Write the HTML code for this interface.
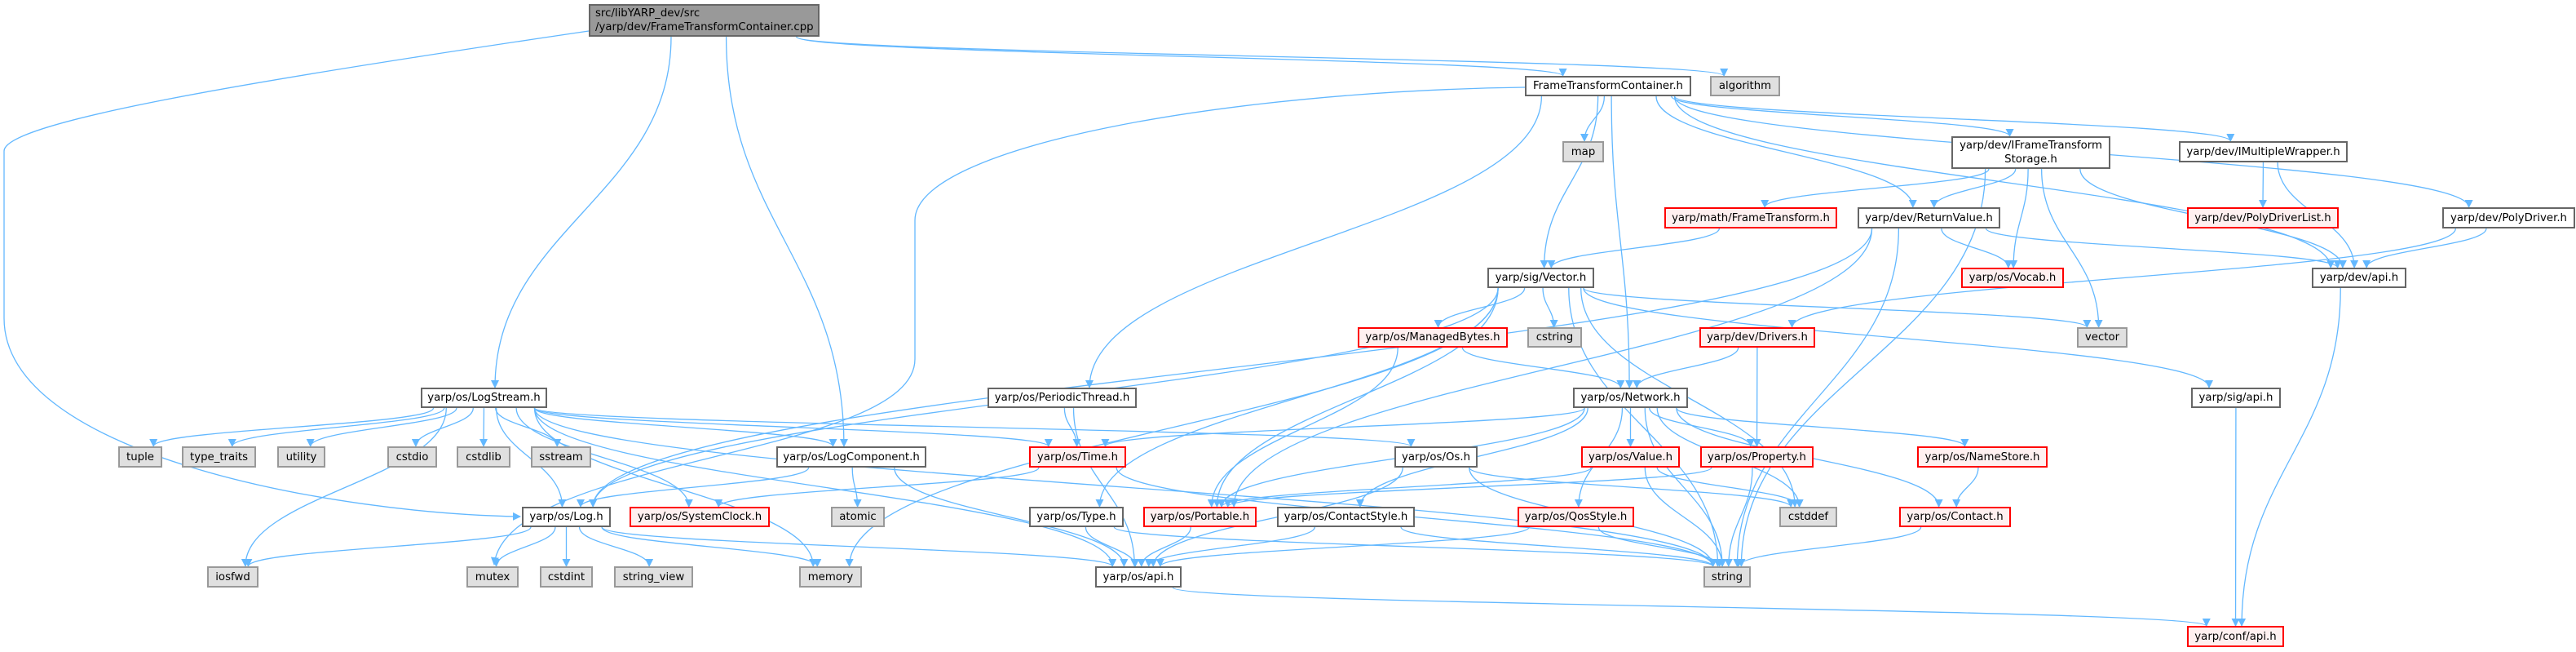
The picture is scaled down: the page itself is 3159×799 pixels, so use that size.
<!DOCTYPE html>
<html><head><meta charset="utf-8"><style>
body{margin:0;background:#fff;width:3159px;height:799px;overflow:hidden;position:relative;font-family:"DejaVu Sans","Liberation Sans",sans-serif;}
svg{position:absolute;left:0;top:0}
.n{position:absolute;box-sizing:border-box;border:2px solid #666;background:#fff;font-size:13.3px;color:#000;display:flex;align-items:center;justify-content:center;text-align:center;line-height:17px;white-space:nowrap}
.g{background:#e0e0e0;border-color:#999}
.r{background:#fff0f0;border-color:#f00}
.t{background:#999;border-color:#666;justify-content:flex-start;text-align:left;padding-left:6px}
</style></head><body>
<svg id="s" width="3159" height="799"><defs><marker id="a" viewBox="0 0 10 10" refX="9" refY="5" markerWidth="10" markerHeight="10" markerUnits="userSpaceOnUse" orient="auto"><path d="M0,0L10,5L0,10z" fill="#63b8ff"/></marker></defs><g id="e" fill="none" stroke="#63b8ff" stroke-width="1.3"></g></svg>
<div id="nodes"></div>
<script>
var N={
cpp:[722,5,1005,45,'t','src/libYARP_dev/src<br>/yarp/dev/FrameTransformContainer.cpp'],
ftc:[1870,93,2074,118,'','FrameTransformContainer.h'],
alg:[2097,93,2183,118,'g','algorithm'],
map:[1916,173,1967,199,'g','map'],
ifs:[2393,167,2588,207,'','yarp/dev/IFrameTransform<br>Storage.h'],
imw:[2672,173,2879,199,'','yarp/dev/IMultipleWrapper.h'],
mft:[2041,254,2253,280,'r','yarp/math/FrameTransform.h'],
rv:[2278,254,2453,280,'','yarp/dev/ReturnValue.h'],
pdl:[2682,254,2868,280,'r','yarp/dev/PolyDriverList.h'],
pd:[2995,254,3158,280,'','yarp/dev/PolyDriver.h'],
vec:[1824,328,1955,353,'','yarp/sig/Vector.h'],
voc:[2405,328,2531,353,'r','yarp/os/Vocab.h'],
dapi:[2835,328,2951,353,'','yarp/dev/api.h'],
mb:[1665,401,1849,426,'r','yarp/os/ManagedBytes.h'],
cstr:[1873,401,1940,426,'g','cstring'],
drv:[2084,401,2226,426,'r','yarp/dev/Drivers.h'],
vect:[2547,401,2609,426,'g','vector'],
ls:[516,475,671,500,'','yarp/os/LogStream.h'],
pt:[1211,475,1394,500,'','yarp/os/PeriodicThread.h'],
net:[1929,475,2070,500,'','yarp/os/Network.h'],
sapi:[2687,475,2797,500,'','yarp/sig/api.h'],
tup:[145,547,199,573,'g','tuple'],
tt:[223,547,314,573,'g','type_traits'],
ut:[340,547,399,573,'g','utility'],
cio:[475,547,536,573,'g','cstdio'],
clib:[560,547,626,573,'g','cstdlib'],
ss:[651,547,725,573,'g','sstream'],
lc:[952,547,1136,573,'','yarp/os/LogComponent.h'],
tim:[1262,547,1381,573,'r','yarp/os/Time.h'],
os:[1710,547,1812,573,'','yarp/os/Os.h'],
val:[1939,547,2060,573,'r','yarp/os/Value.h'],
prop:[2085,547,2224,573,'r','yarp/os/Property.h'],
ns:[2351,547,2511,573,'r','yarp/os/NameStore.h'],
log:[640,621,749,646,'','yarp/os/Log.h'],
sc:[772,621,944,646,'r','yarp/os/SystemClock.h'],
atm:[1019,621,1085,646,'g','atomic'],
typ:[1262,621,1378,646,'','yarp/os/Type.h'],
port:[1402,621,1541,646,'r','yarp/os/Portable.h'],
cs:[1566,621,1735,646,'','yarp/os/ContactStyle.h'],
qos:[1861,621,2004,646,'r','yarp/os/QosStyle.h'],
cdef:[2182,621,2253,646,'g','cstddef'],
con:[2329,621,2466,646,'r','yarp/os/Contact.h'],
iosf:[254,694,317,720,'g','iosfwd'],
mtx:[572,694,636,720,'g','mutex'],
cint:[662,694,727,720,'g','cstdint'],
sv:[753,694,850,720,'g','string_view'],
mem:[980,694,1057,720,'g','memory'],
oapi:[1343,694,1449,720,'','yarp/os/api.h'],
str:[2089,694,2147,720,'g','string'],
capi:[2682,767,2801,793,'r','yarp/conf/api.h']
};
var E={cpp:'ftc alg ls lc',
ftc:'map ifs imw rv dapi pd vec net pt',
ifs:'mft rv voc vect str dapi',imw:'pdl dapi',pd:'dapi drv',mft:'vec',
rv:'voc dapi str log port',dapi:'capi',
vec:'mb cstr vect sapi port typ log mem str cdef',
mb:'net port',drv:'net prop',sapi:'capi',
ls:'tup tt ut cio clib ss iosf log sc lc tim os oapi str mem',
pt:'tim oapi',net:'tim port cs val prop qos ns con str cdef',
lc:'log atm oapi',tim:'sc str',os:'oapi str cdef',val:'port str cdef',
prop:'port str',ns:'con',typ:'oapi str',port:'oapi',cs:'oapi str',qos:'oapi str',
con:'str',log:'iosf mtx cint sv mem oapi',oapi:'capi'};
var h='';
for(var k in N){var n=N[k];h+='<div class="n '+n[4]+'" style="left:'+n[0]+'px;top:'+n[1]+'px;width:'+(n[2]-n[0])+'px;height:'+(n[3]-n[1])+'px">'+n[5]+'</div>';}
document.getElementById('nodes').innerHTML=h;
var p='';
p+='<path d="M722,38 C300,100 5,150 5,185 L5,390 C5,560 420,630 638,633" marker-end="url(#a)"/>';
p+='<path d="M1870,107 C1500,112 1122,180 1122,270 L1122,440 C1122,560 620,560 606,692" marker-end="url(#a)"/>';
for(var s in E){E[s].split(' ').forEach(function(t){var a=N[s],b=N[t];
var acx=(a[0]+a[2])/2,bcx=(b[0]+b[2])/2,aw=(a[2]-a[0]),bw=(b[2]-b[0]);
var dx=bcx-acx;
var sx=acx+Math.max(-aw*0.4,Math.min(aw*0.4,dx*0.15));
var ex=bcx+Math.max(-bw*0.3,Math.min(bw*0.3,-dx*0.05));
var sy=a[3],ey=b[1];
if(b[1]<=a[3]){
 sy=(a[1]+a[3])/2; ey=(b[1]+b[3])/2;
 if(dx>0){sx=a[2];ex=b[0];}else{sx=a[0];ex=b[2];}
 p+='<path d="M'+sx+','+sy+' C'+(sx+ex)/2+','+sy+' '+(sx+ex)/2+','+ey+' '+ex+','+ey+'" marker-end="url(#a)"/>';return;}
var dy=ey-sy;
p+='<path d="M'+sx+','+sy+' C'+sx+','+(sy+dy*0.45)+' '+ex+','+(ey-dy*0.45)+' '+ex+','+ey+'" marker-end="url(#a)"/>';
});}
document.getElementById('e').innerHTML=p;
</script>
</body></html>
